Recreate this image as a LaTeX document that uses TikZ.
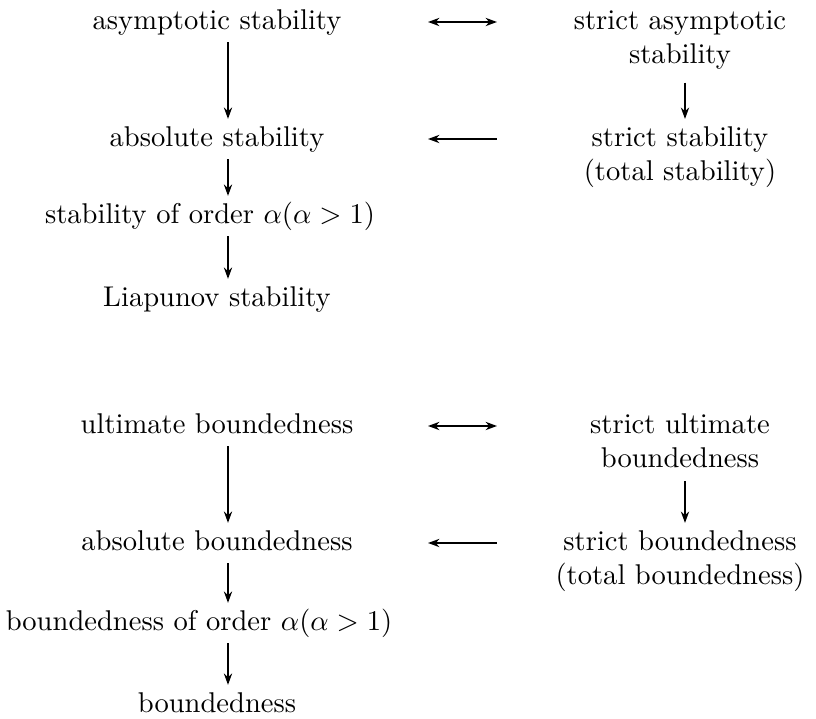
\documentclass[tikz,border=0pt]{standalone}
\usepackage{tikz}
\usetikzlibrary{arrows.meta}

\begin{document}
\begin{tikzpicture}[
  x=0.35pt, y=-0.35pt,
  lbl/.style={inner sep=2.4pt, text height=6.94pt, text depth=1.94pt},
  two/.style={inner sep=2.4pt, align=center},
  arrow/.style={-{Stealth[length=4pt, width=2.9pt, inset=1.3pt]}, line width=0.55pt},
  backarrow/.style={{Stealth[length=4pt, width=2.9pt, inset=1.3pt]}-, line width=0.55pt},
  dblarrow/.style={{Stealth[length=4pt, width=2.9pt, inset=1.3pt]}-{Stealth[length=4pt, width=2.9pt, inset=1.3pt]}, line width=0.55pt},
  across/.style={shorten <=73.85pt, shorten >=64.05pt}
]
\useasboundingbox (0,0) rectangle (816,719);
\coordinate (lx) at (228,0);
\coordinate (rx) at (685,0);

\node[lbl] (asym) at (217,22) {asymptotic stability};
\node[lbl] (abs) at (217,139) {absolute stability};
\node[lbl] (ordA) at (210,216) {stability of order $\alpha(\alpha>1)$};
\node[lbl] (lia) at (217,299) {Liapunov stability};
\node[two] (sasym) at (680,40) {strict asymptotic\\stability};
\node[two] (sstab) at (680,157) {strict stability\\(total stability)};

\node[lbl] (ult) at (217,426) {ultimate boundedness};
\node[lbl] (absb) at (217,543) {absolute boundedness};
\node[lbl] (ordB) at (199,623) {boundedness of order $\alpha(\alpha>1)$};
\node[lbl] (bdd) at (217,705) {boundedness};
\node[two] (sult) at (680,441) {strict ultimate\\boundedness};
\node[two] (sbdd) at (680,561) {strict boundedness\\(total boundedness)};

\draw[arrow] (asym.south -| lx) -- (abs.north -| lx);
\draw[arrow] (abs.south -| lx) -- (ordA.north -| lx);
\draw[arrow] (ordA.south -| lx) -- (lia.north -| lx);
\draw[arrow, shorten <=2pt] (sasym.south -| rx) -- (sstab.north -| rx);
\draw[dblarrow, across] (asym.center) -- (asym.center -| sasym.center);
\draw[backarrow, across] (abs.center) -- (abs.center -| sstab.center);

\draw[arrow] (ult.south -| lx) -- (absb.north -| lx);
\draw[arrow] (absb.south -| lx) -- (ordB.north -| lx);
\draw[arrow] (ordB.south -| lx) -- (bdd.north -| lx);
\draw[arrow, shorten <=2pt] (sult.south -| rx) -- (sbdd.north -| rx);
\draw[dblarrow, across] (ult.center) -- (ult.center -| sult.center);
\draw[backarrow, across] (absb.center) -- (absb.center -| sbdd.center);
\end{tikzpicture}
\end{document}
